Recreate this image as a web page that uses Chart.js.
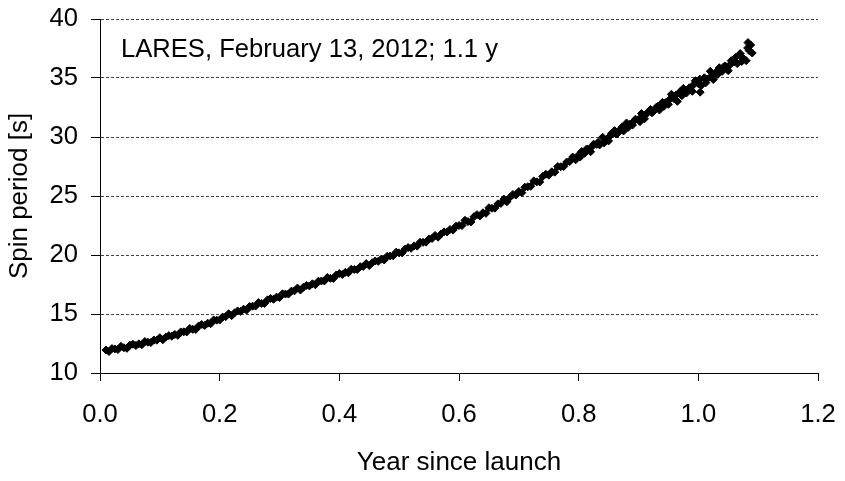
<!DOCTYPE html>
<html>
<head>
<meta charset="utf-8">
<script src="https://cdn.jsdelivr.net/npm/chart.js@4/dist/chart.umd.min.js"></script>
<style>
html,body{margin:0;padding:0;background:#fff;}
#c{display:block;}
</style>
</head>
<body>
<canvas id="c" width="845" height="481"></canvas>
<script>
// ---- data ----
const yearSinceLaunch = [
0.010,0.015,0.020,0.025,0.030,0.035,0.040,0.045,0.050,0.055,0.060,0.065,0.070,0.075,0.080,0.085,0.090,0.095,
0.100,0.105,0.110,0.115,0.120,0.125,0.130,0.135,0.140,0.145,0.150,0.155,0.160,0.165,0.170,0.175,0.180,0.185,0.190,0.195,
0.200,0.205,0.210,0.215,0.220,0.225,0.230,0.235,0.240,0.245,0.250,0.255,0.260,0.265,0.270,0.275,0.280,0.285,0.290,0.295,
0.300,0.305,0.310,0.315,0.320,0.325,0.330,0.335,0.340,0.345,0.350,0.355,0.360,0.365,0.370,0.375,0.380,0.385,0.390,0.395,
0.400,0.405,0.410,0.415,0.420,0.425,0.430,0.435,0.440,0.445,0.450,0.455,0.460,0.465,0.470,0.475,0.480,0.485,0.490,0.495,
0.500,0.505,0.510,0.515,0.520,0.525,0.530,0.535,0.540,0.545,0.550,0.555,0.560,0.565,0.570,0.575,0.580,0.585,0.590,0.595,
0.600,0.605,0.610,0.615,0.620,0.625,0.630,0.635,0.640,0.645,0.650,0.655,0.660,0.665,0.670,0.675,0.680,0.685,0.690,0.695,
0.700,0.705,0.710,0.715,0.720,0.725,0.730,0.735,0.740,0.745,0.750,0.755,0.760,0.765,0.770,0.775,0.780,0.785,0.790,0.795,
0.800,0.805,0.810,0.815,0.820,0.825,0.830,0.835,0.840,0.845,0.850,0.855,0.860,0.865,0.870,0.875,0.880,0.885,0.890,0.895,
0.900,0.905,0.910,0.915,0.920,0.925,0.930,0.935,0.940,0.945,0.950,0.955,0.960,0.965,0.970,0.975,0.980,0.985,0.990,0.995,
1.000,1.003,1.005,1.010,1.015,1.020,1.025,1.030,1.035,1.040,1.045,1.050,1.055,1.060,1.065,1.070,1.075,1.080,1.083,1.085,1.090,
0.8025,0.8125,0.8225,0.8325,0.8425,0.8525,0.8625,0.8725,0.8825,0.8925,0.9025,0.9125,0.9225,0.9325,0.9425,
0.9525,0.9625,0.9725,0.9825,0.9925,1.0025,1.0125,1.0225,1.0325,1.0425,1.0525,1.0625,1.0725,1.0825,1.0875
];
const spinPeriod = [
11.95,11.82,12.07,12.04,11.99,12.26,12.14,12.09,12.36,12.44,12.33,12.47,12.40,12.67,12.61,12.58,12.79,12.78,
12.99,12.81,13.04,13.17,13.12,13.27,13.19,13.48,13.49,13.48,13.78,13.70,13.69,13.99,14.11,14.03,14.22,14.18,14.50,14.48,
14.49,14.74,14.77,15.02,14.86,15.10,15.26,15.22,15.41,15.33,15.64,15.66,15.67,15.97,15.90,15.89,16.20,16.32,16.25,16.43,
16.40,16.71,16.69,16.69,16.94,16.96,17.20,17.03,17.27,17.42,17.38,17.56,17.48,17.78,17.80,17.80,18.10,18.02,18.01,18.31,
18.43,18.35,18.53,18.49,18.80,18.77,18.77,19.01,19.03,19.27,19.10,19.34,19.49,19.46,19.65,19.58,19.89,19.92,19.93,20.24,
20.18,20.18,20.50,20.63,20.57,20.77,20.75,21.08,21.07,21.09,21.36,21.40,21.66,21.51,21.78,21.96,21.95,22.16,22.11,22.44,
22.50,22.50,22.94,22.83,22.80,23.24,23.42,23.31,23.58,23.53,24.00,23.96,23.97,24.33,24.37,24.74,24.51,24.88,25.13,25.08,
25.38,25.28,25.75,25.79,25.82,26.28,26.20,26.19,26.66,26.85,26.77,27.05,27.02,27.50,27.48,27.50,27.88,27.92,28.30,28.07,
28.48,28.77,28.62,28.98,28.75,29.39,29.38,29.33,29.98,29.75,29.67,30.31,30.54,30.30,30.67,30.51,31.19,31.06,31.01,31.51,
31.49,31.99,31.54,32.04,32.33,32.17,32.53,32.29,32.93,32.91,32.77,33.62,33.22,33.02,33.87,34.12,33.72,34.17,33.87,34.77,
34.52,33.80,34.37,35.02,34.92,35.57,34.87,35.52,35.87,35.57,36.02,35.62,36.47,36.37,36.22,37.07,36.67,36.47,38.00,37.32,37.12,
28.30,28.95,29.20,29.55,29.50,30.10,30.25,30.85,30.80,31.35,31.30,31.95,32.05,32.60,32.60,
33.20,33.55,33.50,34.00,34.45,34.90,34.60,35.20,35.30,35.95,36.10,36.75,36.40,37.55,37.80
];
const xTickLabels = ['0.0','0.2','0.4','0.6','0.8','1.0','1.2'];
const yTickValues = [10,15,20,25,30,35,40];
const annotationText = 'LARES, February 13, 2012; 1.1 y';
const xTitle = 'Year since launch';
const yTitle = 'Spin period [s]';

const FONT = '"Liberation Sans", Arial, sans-serif';
const points = yearSinceLaunch.map((x, i) => ({x: x, y: spinPeriod[i]}));

const annotationPlugin = {
  id: 'annot',
  afterDraw(chart) {
    const ctx = chart.ctx;
    ctx.save();
    ctx.font = '25.6px ' + FONT;
    ctx.fillStyle = '#000';
    ctx.textAlign = 'left';
    ctx.textBaseline = 'alphabetic';
    ctx.fillText(annotationText, 121, 57);
    ctx.restore();
  }
};

function zeroPad(scale) {
  scale.paddingTop = 0; scale.paddingBottom = 0;
  scale.paddingLeft = 0; scale.paddingRight = 0;
}

new Chart(document.getElementById('c'), {
  type: 'scatter',
  data: {
    datasets: [{
      data: points,
      showLine: false,
      pointStyle: 'rectRot',
      pointRadius: 4,
      pointHoverRadius: 4,
      pointBorderWidth: 1,
      backgroundColor: '#000',
      borderColor: '#000'
    }]
  },
  options: {
    responsive: false,
    animation: false,
    devicePixelRatio: 1,
    layout: { padding: { top: 19, right: 27, left: 0, bottom: 0 } },
    plugins: { legend: { display: false }, tooltip: { enabled: false } },
    scales: {
      x: {
        type: 'linear',
        min: 0, max: 1.2,
        afterBuildTicks(scale) {
          scale.ticks = xTickLabels.map(t => ({value: parseFloat(t)}));
        },
        afterFit(scale) { scale.height = 108; zeroPad(scale); },
        ticks: {
          callback: (v, i) => xTickLabels[i],
          font: { family: FONT, size: 25.6 },
          color: '#000',
          padding: 19,
          maxRotation: 0,
          autoSkip: false
        },
        grid: { drawOnChartArea: false, drawTicks: true, tickLength: 8, tickColor: '#000', color: '#000' },
        border: { display: true, color: '#000', width: 1 },
        title: {
          display: true, text: xTitle,
          font: { family: FONT, size: 26 },
          color: '#000',
          padding: { top: 0, bottom: 3 }
        }
      },
      y: {
        type: 'linear',
        min: 10, max: 40,
        afterBuildTicks(scale) {
          scale.ticks = yTickValues.map(v => ({value: v}));
        },
        afterFit(scale) { scale.width = 100; zeroPad(scale); },
        ticks: {
          callback: (v) => String(v),
          font: { family: FONT, size: 25.6 },
          color: '#000',
          padding: 13,
          autoSkip: false
        },
        grid: { drawOnChartArea: true, drawTicks: true, tickLength: 9, tickColor: '#000', color: '#444', lineWidth: 1 },
        border: { display: true, color: '#000', width: 1, dash: [3, 2] },
        title: {
          display: true, text: yTitle,
          font: { family: FONT, size: 26 },
          color: '#000',
          padding: { top: 4, bottom: 0 }
        }
      }
    }
  },
  plugins: [annotationPlugin]
});
</script>
</body>
</html>
